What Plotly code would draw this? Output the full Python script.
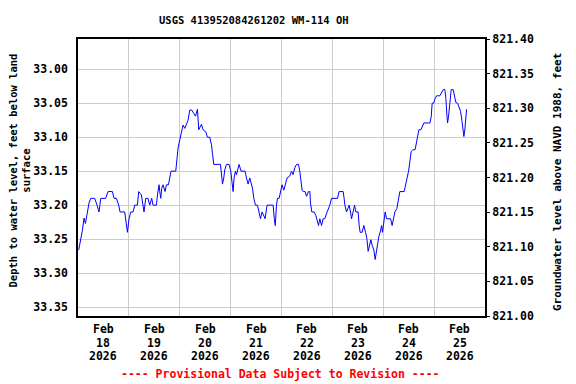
import plotly.graph_objects as go

# ---------------- data ----------------
times = [
    "2026-02-18 00:20", "2026-02-18 00:48", "2026-02-18 01:36", "2026-02-18 02:05", "2026-02-18 02:50",
    "2026-02-18 03:30", "2026-02-18 04:15", "2026-02-18 05:11", "2026-02-18 06:00", "2026-02-18 07:53",
    "2026-02-18 08:58", "2026-02-18 09:55", "2026-02-18 10:43", "2026-02-18 13:04", "2026-02-18 14:10",
    "2026-02-18 16:14", "2026-02-18 17:00", "2026-02-18 18:07", "2026-02-18 19:13", "2026-02-18 19:49",
    "2026-02-18 22:02", "2026-02-18 22:50", "2026-02-18 23:19",
    "2026-02-19 00:04", "2026-02-19 00:52", "2026-02-19 01:58", "2026-02-19 02:46", "2026-02-19 04:02",
    "2026-02-19 04:39", "2026-02-19 05:55", "2026-02-19 06:41", "2026-02-19 07:09", "2026-02-19 07:57",
    "2026-02-19 09:02", "2026-02-19 09:50", "2026-02-19 10:47", "2026-02-19 11:24", "2026-02-19 13:00",
    "2026-02-19 13:29", "2026-02-19 14:14", "2026-02-19 14:34", "2026-02-19 15:02", "2026-02-19 15:30",
    "2026-02-19 16:07", "2026-02-19 17:04", "2026-02-19 17:43", "2026-02-19 18:40", "2026-02-19 19:17",
    "2026-02-19 19:53", "2026-02-19 22:07", "2026-02-19 22:44", "2026-02-19 23:12",
    "2026-02-20 00:00", "2026-02-20 00:48", "2026-02-20 01:34", "2026-02-20 02:22", "2026-02-20 03:10",
    "2026-02-20 03:55", "2026-02-20 04:43", "2026-02-20 05:40", "2026-02-20 06:37", "2026-02-20 07:25",
    "2026-02-20 08:21", "2026-02-20 08:58", "2026-02-20 10:14", "2026-02-20 11:00", "2026-02-20 12:16",
    "2026-02-20 13:04", "2026-02-20 14:10", "2026-02-20 14:58", "2026-02-20 15:26", "2026-02-20 16:03",
    "2026-02-20 19:13", "2026-02-20 19:41", "2026-02-20 20:10", "2026-02-20 20:46", "2026-02-20 21:14",
    "2026-02-20 22:02", "2026-02-20 23:16",
    "2026-02-21 00:04", "2026-02-21 00:41", "2026-02-21 01:10", "2026-02-21 01:38", "2026-02-21 02:17",
    "2026-02-21 02:46", "2026-02-21 03:14", "2026-02-21 03:59", "2026-02-21 04:56", "2026-02-21 06:49",
    "2026-02-21 07:29", "2026-02-21 08:14", "2026-02-21 09:02", "2026-02-21 09:50", "2026-02-21 10:19",
    "2026-02-21 10:56", "2026-02-21 11:44", "2026-02-21 12:40", "2026-02-21 13:26", "2026-02-21 14:05",
    "2026-02-21 14:50", "2026-02-21 15:38", "2026-02-21 16:16", "2026-02-21 17:12", "2026-02-21 20:02",
    "2026-02-21 20:36", "2026-02-21 21:04", "2026-02-21 21:38", "2026-02-21 22:07", "2026-02-21 22:52",
    "2026-02-21 23:40",
    "2026-02-22 00:17", "2026-02-22 01:05", "2026-02-22 01:53", "2026-02-22 02:38", "2026-02-22 03:55",
    "2026-02-22 04:43", "2026-02-22 05:28", "2026-02-22 06:17", "2026-02-22 07:05", "2026-02-22 08:01",
    "2026-02-22 08:38", "2026-02-22 09:07", "2026-02-22 09:43", "2026-02-22 10:12", "2026-02-22 11:08",
    "2026-02-22 11:48", "2026-02-22 12:44", "2026-02-22 13:22", "2026-02-22 13:41", "2026-02-22 14:18",
    "2026-02-22 15:23", "2026-02-22 16:11", "2026-02-22 16:48", "2026-02-22 17:28", "2026-02-22 18:05",
    "2026-02-22 18:53", "2026-02-22 19:38", "2026-02-22 20:26", "2026-02-22 21:31", "2026-02-22 22:11",
    "2026-02-22 22:48", "2026-02-22 23:36",
    "2026-02-23 02:26", "2026-02-23 03:11", "2026-02-23 05:05", "2026-02-23 05:33", "2026-02-23 05:53",
    "2026-02-23 06:41", "2026-02-23 07:26", "2026-02-23 07:55", "2026-02-23 08:34", "2026-02-23 09:02",
    "2026-02-23 09:47", "2026-02-23 10:28", "2026-02-23 11:04", "2026-02-23 12:09", "2026-02-23 12:38",
    "2026-02-23 13:06", "2026-02-23 14:02", "2026-02-23 14:50", "2026-02-23 15:39", "2026-02-23 16:16",
    "2026-02-23 16:52", "2026-02-23 17:21", "2026-02-23 18:09", "2026-02-23 18:46", "2026-02-23 19:34",
    "2026-02-23 20:11", "2026-02-23 20:50", "2026-02-23 21:19", "2026-02-23 21:56", "2026-02-23 22:44",
    "2026-02-23 23:12", "2026-02-23 23:40",
    "2026-02-24 00:17", "2026-02-24 00:54", "2026-02-24 01:34", "2026-02-24 03:27", "2026-02-24 04:12",
    "2026-02-24 04:52", "2026-02-24 05:29", "2026-02-24 06:25", "2026-02-24 07:13", "2026-02-24 07:50",
    "2026-02-24 09:52", "2026-02-24 10:40", "2026-02-24 11:17", "2026-02-24 11:56", "2026-02-24 12:34",
    "2026-02-24 13:10", "2026-02-24 13:50", "2026-02-24 15:04", "2026-02-24 15:43", "2026-02-24 16:11",
    "2026-02-24 16:49", "2026-02-24 17:45", "2026-02-24 18:22", "2026-02-24 19:10", "2026-02-24 22:00",
    "2026-02-24 22:37", "2026-02-24 23:05", "2026-02-24 23:45",
    "2026-02-25 00:30", "2026-02-25 01:10", "2026-02-25 02:43", "2026-02-25 03:31", "2026-02-25 04:16",
    "2026-02-25 05:05", "2026-02-25 05:33", "2026-02-25 06:01", "2026-02-25 06:21", "2026-02-25 06:49",
    "2026-02-25 07:26", "2026-02-25 08:03", "2026-02-25 08:59", "2026-02-25 09:28", "2026-02-25 10:16",
    "2026-02-25 11:04", "2026-02-25 11:49", "2026-02-25 12:29", "2026-02-25 13:06", "2026-02-25 13:43",
    "2026-02-25 14:02", "2026-02-25 14:31", "2026-02-25 14:51", "2026-02-25 15:19",
]

depth_ft = [
    33.266, 33.259, 33.246, 33.237, 33.219, 33.227, 33.214, 33.197, 33.190, 33.190,
    33.200, 33.210, 33.190, 33.190, 33.180, 33.180, 33.190, 33.190, 33.200, 33.210,
    33.210, 33.230, 33.240,
    33.220, 33.210, 33.210, 33.200, 33.200, 33.180, 33.185, 33.200, 33.210, 33.190,
    33.190, 33.200, 33.190, 33.200, 33.200, 33.185, 33.170, 33.180, 33.190, 33.175,
    33.170, 33.180, 33.170, 33.170, 33.160, 33.150, 33.150, 33.129, 33.116,
    33.104, 33.094, 33.082, 33.087, 33.081, 33.075, 33.060, 33.060, 33.065, 33.069,
    33.059, 33.089, 33.081, 33.089, 33.092, 33.100, 33.100, 33.111, 33.124, 33.140,
    33.140, 33.160, 33.169, 33.160, 33.148, 33.140, 33.140,
    33.150, 33.170, 33.180, 33.160, 33.150, 33.155, 33.150, 33.140, 33.150, 33.150,
    33.160, 33.169, 33.160, 33.168, 33.175, 33.190, 33.200, 33.200, 33.210, 33.220,
    33.210, 33.215, 33.220, 33.200, 33.200, 33.220, 33.230, 33.200, 33.190, 33.190,
    33.180,
    33.170, 33.178, 33.170, 33.160, 33.157, 33.150, 33.155, 33.145, 33.140, 33.140,
    33.150, 33.165, 33.178, 33.180, 33.180, 33.187, 33.180, 33.180, 33.197, 33.210,
    33.210, 33.215, 33.224, 33.230, 33.220, 33.230, 33.220, 33.220, 33.210, 33.205,
    33.200, 33.190,
    33.190, 33.180, 33.180, 33.190, 33.200, 33.210, 33.203, 33.200, 33.210, 33.220,
    33.210, 33.200, 33.210, 33.210, 33.230, 33.240, 33.240, 33.230, 33.240, 33.249,
    33.268, 33.261, 33.251, 33.259, 33.266, 33.280, 33.268, 33.256, 33.246, 33.238,
    33.230, 33.240,
    33.220, 33.210, 33.220, 33.220, 33.230, 33.220, 33.210, 33.205, 33.190, 33.180,
    33.180, 33.170, 33.160, 33.150, 33.136, 33.121, 33.119, 33.118, 33.107, 33.099,
    33.089, 33.089, 33.084, 33.079, 33.079, 33.070, 33.050, 33.050,
    33.043, 33.039, 33.039, 33.033, 33.030, 33.030, 33.043, 33.067, 33.079, 33.069,
    33.045, 33.030, 33.030, 33.038, 33.049, 33.050, 33.056, 33.062, 33.075, 33.089,
    33.099, 33.088, 33.071, 33.059,
]

DATUM_FT = 854.356  # land-surface elevation, so that elevation = datum - depth

day_gridlines = ["2026-02-19", "2026-02-20", "2026-02-21", "2026-02-22",
                 "2026-02-23", "2026-02-24", "2026-02-25"]
label_noons = ["2026-02-18 12:00", "2026-02-19 12:00", "2026-02-20 12:00", "2026-02-21 12:00",
               "2026-02-22 12:00", "2026-02-23 12:00", "2026-02-24 12:00", "2026-02-25 12:00"]
label_month = ["Feb"] * 8
label_day = ["18", "19", "20", "21", "22", "23", "24", "25"]
label_year = ["2026"] * 8

left_ticks = [33.00, 33.05, 33.10, 33.15, 33.20, 33.25, 33.30, 33.35]
right_ticks = [821.00, 821.05, 821.10, 821.15, 821.20, 821.25, 821.30, 821.35, 821.40]

title_text = "USGS 413952084261202 WM-114 OH"
left_title = "Depth to water level, feet below land<br>surface"
right_title = "Groundwater level above NAVD 1988, feet"
footer_text = "---- Provisional Data Subject to Revision ----"

# ---------------- figure ----------------
FONT = "DejaVu Sans Mono"
# the page body has an 8 px margin, so the figure starts at (8, 8) in the window
W, H = 560, 376
ML, MR, MT, MB = 70, 83, 31, 68
PW = W - ML - MR
PH = H - MT - MB
PLOT_LEFT_PAGE = 8 + ML
PLOT_BOTTOM_PAGE = 8 + H - MB


def px(xp):
    return (xp - PLOT_LEFT_PAGE) / PW


def py(yp):
    return (PLOT_BOTTOM_PAGE - yp) / PH


fig = go.Figure()
fig.add_trace(go.Scatter(x=times, y=depth_ft, mode="lines",
                         line=dict(color="#0000FF", width=1), yaxis="y", hoverinfo="x+y"))
fig.add_trace(go.Scatter(x=times, y=[DATUM_FT - d for d in depth_ft], mode="lines",
                         line=dict(color="rgba(0,0,0,0)", width=0), yaxis="y2",
                         hoverinfo="skip", showlegend=False))

tickfont = dict(family=FONT, size=11.5, color="black", weight="bold")

fig.update_layout(
    width=W, height=H,
    margin=dict(l=ML, r=MR, t=MT, b=MB, pad=0),
    paper_bgcolor="white", plot_bgcolor="white",
    showlegend=False,
    xaxis=dict(
        range=["2026-02-18 00:00", "2026-02-26 00:00"],
        tickmode="array", tickvals=day_gridlines, showticklabels=False,
        ticks="", showgrid=True, gridcolor="#cccccc", gridwidth=1,
        showline=True, linecolor="black", linewidth=1.5, mirror=True, zeroline=False,
    ),
    yaxis=dict(
        range=[33.3632, 32.9554],
        tickmode="array", tickvals=left_ticks, ticktext=[f"{v:.2f}" for v in left_ticks],
        tickfont=tickfont, ticks="outside", ticklen=6, tickcolor="white",
        showgrid=True, gridcolor="#cccccc", gridwidth=1,
        showline=True, linecolor="black", linewidth=1.5, mirror=True, zeroline=False,
    ),
    yaxis2=dict(
        range=[821.00, 821.40], overlaying="y", side="right",
        tickmode="array", tickvals=right_ticks, ticktext=[f"{v:.2f}" for v in right_ticks],
        tickfont=tickfont, ticks="outside", ticklen=4, tickcolor="black",
        showgrid=False, zeroline=False, showline=False,
    ),
)

ann = []
ann.append(dict(text=title_text, xref="paper", yref="paper",
                x=px(254), y=py(20),
                xanchor="center", yanchor="middle", showarrow=False,
                font=dict(family=FONT, size=10.5, color="black", weight="bold")))
ann.append(dict(text=left_title, xref="paper", yref="paper",
                x=px(19.5), y=py(171),
                xanchor="center", yanchor="middle", showarrow=False, textangle=-90,
                borderpad=0,
                font=dict(family=FONT, size=10.5, color="black", weight="bold")))
ann.append(dict(text=right_title, xref="paper", yref="paper",
                x=px(557), y=py(182),
                xanchor="center", yanchor="middle", showarrow=False, textangle=-90,
                font=dict(family=FONT, size=11, color="black", weight="bold")))
ann.append(dict(text=footer_text, xref="paper", yref="paper",
                x=px(280.5), y=py(374.5),
                xanchor="center", yanchor="middle", showarrow=False,
                font=dict(family=FONT, size=11.5, color="#FF0000", weight="bold")))
for rows_shift, labels in ((-13.1, label_month), (-26.7, label_day), (-40.3, label_year)):
    for xv, txt in zip(label_noons, labels):
        ann.append(dict(text=txt, xref="x", yref="paper", x=xv, y=0, yshift=rows_shift,
                        xanchor="center", yanchor="middle", showarrow=False,
                        borderpad=0,
                        font=dict(family=FONT, size=11.5, color="black", weight="bold")))
fig.update_layout(annotations=ann)

fig.write_html("out.html")
